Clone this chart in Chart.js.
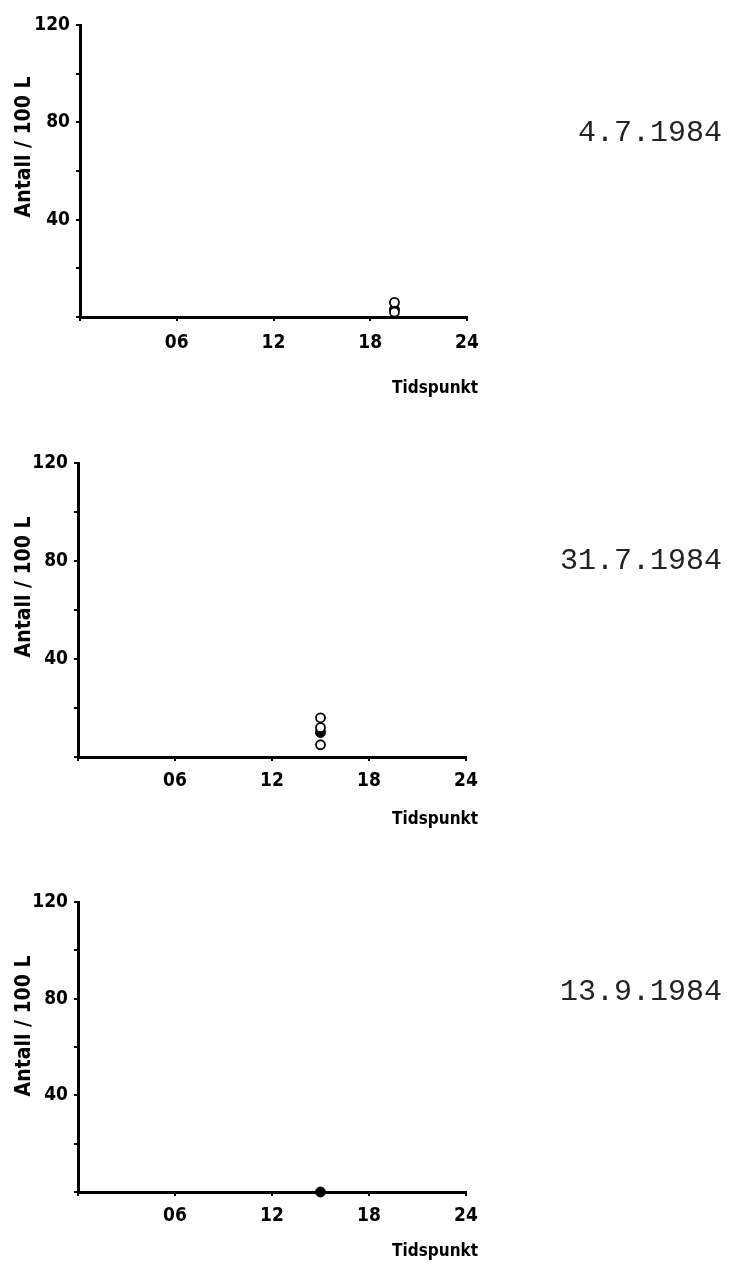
<!DOCTYPE html>
<html>
<head>
<meta charset="utf-8">
<script src="https://cdn.jsdelivr.net/npm/chart.js@4.4.1/dist/chart.umd.min.js"></script>
<style>
  html, body { margin: 0; padding: 0; background: #fff; }
  body { width: 733px; height: 1268px; position: relative; overflow: hidden; }
  .panel { position: absolute; left: 0; width: 733px; height: 430px; }
</style>
</head>
<body>
<div class="panel" style="top:0px"><canvas id="c1"></canvas></div>
<div class="panel" style="top:430px"><canvas id="c2"></canvas></div>
<div class="panel" style="top:860px"><canvas id="c3"></canvas></div>
<script>
// ---- data ----
const dates = ['4.7.1984', '31.7.1984', '13.9.1984'];
const xTicks = [0, 6, 12, 18, 24];
const xTickLabels = ['', '06', '12', '18', '24'];
const yLabelledTicks = [40, 80, 120];
const yAxisTitle = 'Antall / 100 L';
const xAxisTitle = 'Tidspunkt';

// 4.7.1984
const openHours1 = [19.5, 19.5];
const openValues1 = [6, 2];
const filledHours1 = [19.5];
const filledValues1 = [3];

// 31.7.1984
const openHours2 = [15, 15, 15];
const openValues2 = [16, 12, 5];
const filledHours2 = [15];
const filledValues2 = [10];

// 13.9.1984
const openHours3 = [];
const openValues3 = [];
const filledHours3 = [15];
const filledValues3 = [0];

const LABEL_FONT = '"Liberation Sans Narrow", "DejaVu Sans Condensed", "Liberation Sans", Arial, sans-serif';

function pts(xs, ys) { return xs.map((x, i) => ({ x: x, y: ys[i] })); }

const textPlugin = {
  id: 'panelText',
  afterDraw(chart, args, o) {
    const ctx = chart.ctx;
    ctx.save();
    ctx.fillStyle = '#000';
    // y-axis title
    ctx.save();
    ctx.translate(o.yTitleX, o.yTitleY);
    ctx.rotate(-Math.PI / 2);
    ctx.font = 'bold 21px ' + LABEL_FONT;
    ctx.textAlign = 'center';
    ctx.textBaseline = 'middle';
    ctx.fillText(yAxisTitle, 0, 0);
    ctx.restore();
    // x-axis title
    ctx.font = 'bold 17px ' + LABEL_FONT;
    ctx.textAlign = 'right';
    ctx.textBaseline = 'middle';
    ctx.fillText(xAxisTitle, o.xTitleRight, o.xTitleY);
    // date
    ctx.font = '30px "Liberation Mono", "DejaVu Sans Mono", monospace';
    ctx.fillStyle = '#222';
    ctx.textAlign = 'right';
    ctx.textBaseline = 'middle';
    ctx.fillText(o.date, 722, o.dateY);
    ctx.restore();
  }
};

function makeChart(id, openPts, filledPts, geo) {
  const canvas = document.getElementById(id);
  canvas.width = 733; canvas.height = 430;
  return new Chart(canvas, {
    type: 'scatter',
    data: {
      datasets: [
        {
          data: openPts,
          pointStyle: 'circle',
          pointRadius: 4.5,
          pointBorderWidth: 1.8,
          pointBackgroundColor: '#fff',
          pointBorderColor: '#000',
          clip: false
        },
        {
          data: filledPts,
          pointStyle: 'circle',
          pointRadius: 5,
          pointBorderWidth: 1,
          pointBackgroundColor: '#000',
          pointBorderColor: '#000',
          clip: false
        }
      ]
    },
    options: {
      responsive: false,
      animation: false,
      events: [],
      layout: { padding: { left: 0, right: 733 - geo.right, top: geo.top, bottom: 430 - geo.bottom - 40 } },
      plugins: {
        legend: { display: false },
        tooltip: { enabled: false },
        panelText: geo.text
      },
      scales: {
        x: {
          type: 'linear',
          min: 0, max: 24,
          afterBuildTicks(scale) { scale.ticks = xTicks.map(v => ({ value: v })); },
          afterFit(scale) { scale.height = 40; },
          ticks: {
            color: '#000',
            font: { family: LABEL_FONT, size: 19, weight: 'bold' },
            padding: geo.xPad,
            maxRotation: 0,
            autoSkip: false,
            callback(v) { const i = xTicks.indexOf(v); return i >= 0 ? xTickLabels[i] : ''; }
          },
          grid: { drawOnChartArea: false, drawTicks: true, tickLength: 4, color: '#000', lineWidth: 2 },
          border: { display: true, color: '#000', width: 3 }
        },
        y: {
          type: 'linear',
          min: 0, max: 120,
          afterFit(scale) { scale.width = geo.left; },
          ticks: {
            stepSize: 20,
            color: '#000',
            font: { family: LABEL_FONT, size: 19, weight: 'bold' },
            padding: 6,
            callback(v) { return yLabelledTicks.includes(v) ? String(v) : ''; }
          },
          grid: { drawOnChartArea: false, drawTicks: true, tickLength: 4, color: '#000', lineWidth: 2 },
          border: { display: true, color: '#000', width: 3 }
        }
      }
    },
    plugins: [textPlugin]
  });
}

makeChart('c1', pts(openHours1, openValues1), pts(filledHours1, filledValues1),
  { left: 80, right: 467, top: 25, bottom: 317, xPad: 11,
    text: { yTitleX: 25, yTitleY: 147, xTitleRight: 478, xTitleY: 389, date: dates[0], dateY: 133 } });
makeChart('c2', pts(openHours2, openValues2), pts(filledHours2, filledValues2),
  { left: 78, right: 466, top: 33, bottom: 327, xPad: 9,
    text: { yTitleX: 25, yTitleY: 157, xTitleRight: 478, xTitleY: 390, date: dates[1], dateY: 131 } });
makeChart('c3', pts(openHours3, openValues3), pts(filledHours3, filledValues3),
  { left: 78, right: 466, top: 42, bottom: 332, xPad: 9,
    text: { yTitleX: 25, yTitleY: 166, xTitleRight: 478, xTitleY: 392, date: dates[2], dateY: 132 } });
</script>
</body>
</html>
